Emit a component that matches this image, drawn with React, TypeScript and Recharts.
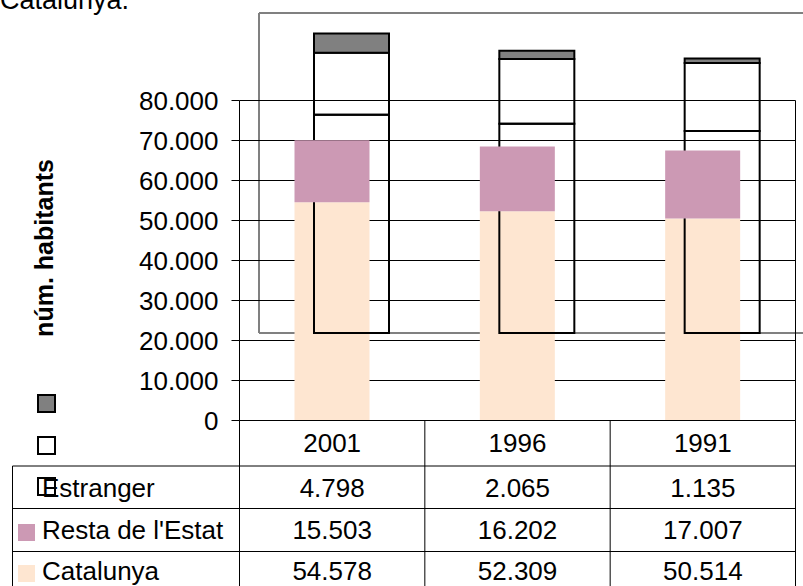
import { BarChart, Bar, XAxis, YAxis, CartesianGrid } from 'recharts';

const years = ['2001', '1996', '1991'];
const catalunya = [54578, 52309, 50514];
const restaEstat = [15503, 16202, 17007];
const estranger = [4798, 2065, 1135];
const yTicks = [0, 10000, 20000, 30000, 40000, 50000, 60000, 70000, 80000];

const data = years.map((year, i) => ({
  year,
  catalunya: catalunya[i],
  resta: restaEstat[i],
  estranger: estranger[i],
}));

// table rows, top to bottom
const tableRows = [
  { name: 'Estranger', values: estranger },
  { name: "Resta de l'Estat", values: restaEstat },
  { name: 'Catalunya', values: catalunya },
];

const W = 803;
const H = 586;
// half-pixel offsets keep the 1px lines crisp
const LEFT = 239.5;
const RIGHT = 7.5;
const TOP = 100.5;
const TABLE_H = 165.5;
const YW = 100;
const PLOT_W = W - LEFT - RIGHT;
const PLOT_BOTTOM = H - TABLE_H;
const BAR = 75;

// the ghost copy of the chart sits up and to the right
const SHIFT_X = 20;
const SHIFT_Y = -87;

const FONT = 'Arial, "Liberation Sans", sans-serif';
const FS = 26;
const PEACH = '#FEE6D1';
const PINK = '#CC99B4';
const GREY = '#808080';

const HEAD_BASE = 452;
const ROW_BASE = [497, 539, 580];
const ROW_LINES = [466, 508.5, 551.5];
const TABLE_X = 12.5;

const fmt = (v: number) => String(v).replace(/\B(?=(\d{3})+(?!\d))/g, '.');

const TableColumn = (props: any) => {
  const { x, payload, index } = props;
  const half = PLOT_W / years.length / 2;
  const i = years.indexOf(payload.value);
  return (
    <g>
      {index === 0 && <line x1={x - half} x2={x - half} y1={PLOT_BOTTOM} y2={H} stroke="#000" />}
      <line x1={x + half} x2={x + half} y1={PLOT_BOTTOM} y2={H} stroke="#000" />
      <text x={x} y={HEAD_BASE} textAnchor="middle" fontSize={FS} fontFamily={FONT} fill="#000">
        {payload.value}
      </text>
      {tableRows.map((r, k) => (
        <text key={k} x={x} y={ROW_BASE[k]} textAnchor="middle" fontSize={FS} fontFamily={FONT} fill="#000">
          {fmt(r.values[i])}
        </text>
      ))}
    </g>
  );
};

const layer = (dx: number, dy: number): React.CSSProperties => ({
  position: 'absolute',
  left: dx,
  top: dy,
  width: W,
  height: H,
});

const bareMargin = { top: TOP, right: RIGHT, left: LEFT, bottom: TABLE_H };

const LegendKeys = ({ fills, strokes }: { fills: string[]; strokes: string[] }) => (
  <>
    {tableRows.map((r, k) => (
      <rect
        key={r.name}
        x={18}
        y={ROW_BASE[k] - 15}
        width={17}
        height={17}
        fill={fills[k]}
        stroke={strokes[k]}
        strokeWidth={2}
      />
    ))}
  </>
);

export default function App() {
  return (
    <div style={{ position: 'absolute', left: 0, top: 0, width: W, height: H, overflow: 'hidden', background: '#fff' }}>
      {/* frame of the ghost chart, under the bars */}
      <div style={layer(SHIFT_X, SHIFT_Y)}>
        <BarChart width={W} height={H} data={data} margin={{ top: 100, right: 8, left: 239, bottom: 166 }} barSize={BAR}>
          <XAxis dataKey="year" hide />
          <YAxis hide domain={[0, 80000]} />
          <CartesianGrid
            stroke={GREY}
            strokeWidth={2}
            horizontalCoordinatesGenerator={({ offset }: any) => [offset.top, offset.top + offset.height]}
            verticalCoordinatesGenerator={({ offset }: any) => [offset.left, offset.left + offset.width]}
          />
        </BarChart>
      </div>

      {/* main chart */}
      <div style={layer(0, 0)}>
        <BarChart width={W} height={H} data={data} margin={{ top: TOP, right: RIGHT, left: LEFT - YW, bottom: 0 }} barSize={BAR}>
          <CartesianGrid vertical={false} stroke="#000" />
          <CartesianGrid
            horizontal={false}
            stroke="#000"
            verticalCoordinatesGenerator={({ offset }: any) => [offset.left + offset.width]}
          />
          <XAxis
            dataKey="year"
            height={TABLE_H}
            interval={0}
            axisLine={{ stroke: '#000' }}
            tickLine={false}
            tick={(p: any) => <TableColumn {...p} />}
          />
          <YAxis
            width={YW}
            domain={[0, 80000]}
            ticks={yTicks}
            interval={0}
            tickFormatter={fmt}
            tickSize={8}
            tickMargin={13}
            axisLine={{ stroke: '#000' }}
            tickLine={{ stroke: '#000' }}
            tick={{ fill: '#000', fontSize: FS, fontFamily: FONT }}
          />
          <Bar dataKey="catalunya" stackId="s" fill={PEACH} isAnimationActive={false} />
          <Bar dataKey="resta" stackId="s" fill="none" isAnimationActive={false} />
          <Bar dataKey="estranger" stackId="s" fill="none" isAnimationActive={false} />
        </BarChart>
        <svg width={W} height={H} style={{ position: 'absolute', left: 0, top: 0 }}>
          <text x={0} y={9} fontSize={27} fontFamily={FONT} fill="#000">Catalunya.</text>
          <text
            transform="translate(53,248) rotate(-90)"
            textAnchor="middle"
            fontSize={25}
            fontWeight="bold"
            fontFamily={FONT}
            fill="#000"
          >
            núm. habitants
          </text>
          {ROW_LINES.map((y) => (
            <line key={y} x1={TABLE_X} x2={W - RIGHT} y1={y} y2={y} stroke="#000" />
          ))}
          <line x1={TABLE_X} x2={TABLE_X} y1={ROW_LINES[0]} y2={H} stroke="#000" />
          <LegendKeys fills={['none', PINK, PEACH]} strokes={['none', 'none', 'none']} />
          {tableRows.map((r, k) => (
            <text key={r.name} x={42} y={ROW_BASE[k]} fontSize={FS} fontFamily={FONT} fill="#000">
              {r.name}
            </text>
          ))}
        </svg>
      </div>

      {/* ghost chart outlines */}
      <div style={layer(SHIFT_X, SHIFT_Y)}>
        <BarChart width={W} height={H} data={data} margin={{ top: 100, right: 8, left: 239, bottom: 166 }} barSize={BAR}>
          <XAxis dataKey="year" hide />
          <YAxis hide domain={[0, 80000]} />
          <Bar dataKey="catalunya" stackId="s" fill="none" stroke="#000" strokeWidth={2} isAnimationActive={false} />
          <Bar dataKey="resta" stackId="s" fill="none" stroke="#000" strokeWidth={2} isAnimationActive={false} />
          <Bar dataKey="estranger" stackId="s" fill={GREY} stroke="#000" strokeWidth={2} isAnimationActive={false} />
        </BarChart>
        <svg width={W} height={H} style={{ position: 'absolute', left: 0, top: 0 }}>
          <LegendKeys fills={[GREY, 'none', 'none']} strokes={['#000', '#000', '#000']} />
        </svg>
      </div>

      {/* pink segment sits on top of everything */}
      <div style={layer(0, 0)}>
        <BarChart width={W} height={H} data={data} margin={bareMargin} barSize={BAR}>
          <XAxis dataKey="year" hide />
          <YAxis hide domain={[0, 80000]} />
          <Bar dataKey="catalunya" stackId="s" fill="none" isAnimationActive={false} />
          <Bar dataKey="resta" stackId="s" fill={PINK} isAnimationActive={false} />
        </BarChart>
      </div>
    </div>
  );
}
